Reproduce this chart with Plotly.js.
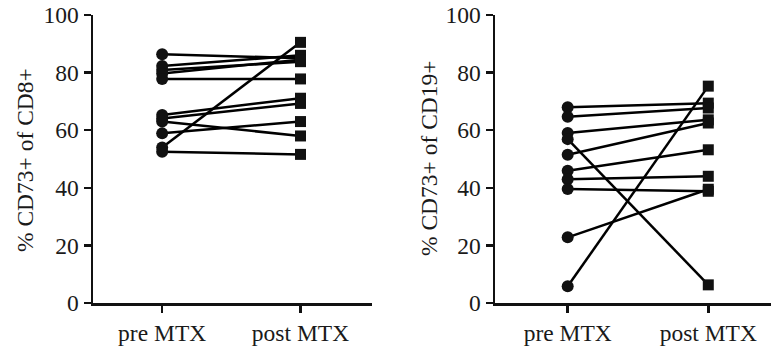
<!DOCTYPE html>
<html>
<head>
<meta charset="utf-8">
<script src="https://cdn.plot.ly/plotly-3.0.1.min.js"></script>
<style>html,body{margin:0;padding:0;background:#fff;}#chart{width:771px;height:349px;}</style>
</head>
<body>
<div id="chart"></div>
<script>
var categories = ['pre MTX', 'post MTX'];
var cd8Pre  = [86.4, 82.3, 80.9, 79.7, 77.8, 65.3, 64.1, 63.0, 58.9, 54.0, 52.5];
var cd8Post = [85.0, 86.0, 83.8, 84.5, 77.8, 71.1, 69.3, 58.0, 63.0, 90.5, 51.6];
var cd19Pre  = [68.0, 64.7, 59.0, 56.9, 51.5, 45.9, 43.0, 39.6, 22.8, 5.8];
var cd19Post = [69.4, 67.7, 63.6, 6.3, 62.5, 53.2, 44.0, 38.8, 39.5, 75.3];
var yTicks = [0, 20, 40, 60, 80, 100];
var yTitles = ['% CD73+ of CD8+', '% CD73+ of CD19+'];

var traces = [];
function addPairs(pre, post, xa, ya) {
  for (var i = 0; i < pre.length; i++) {
    traces.push({
      type: 'scatter', mode: 'lines+markers',
      x: categories, y: [pre[i], post[i]],
      xaxis: xa, yaxis: ya,
      line: {color: '#000', width: 2.5},
      marker: {color: '#111', symbol: ['circle', 'square'], size: [12, 11], opacity: 1,
               line: {width: 0}},
      showlegend: false, hoverinfo: 'skip', cliponaxis: false
    });
  }
}
addPairs(cd8Pre, cd8Post, 'x', 'y');
addPairs(cd19Pre, cd19Post, 'x2', 'y2');

var W = 771, H = 349;
var font = {family: '"Liberation Serif", "Times New Roman", serif', size: 23.5, color: '#1a1a1a'};
function xAxis(d0, d1, r0, r1, anchor) {
  return {domain: [d0 / W, d1 / W], anchor: anchor, type: 'category', categoryarray: categories,
    range: [r0, r1], showline: true, linecolor: '#111', linewidth: 2.5, ticks: 'outside',
    ticklen: 7, tickwidth: 2.5, tickcolor: '#111', showgrid: false, zeroline: false,
    tickfont: font, fixedrange: true};
}
function yAxis(anchor) {
  return {domain: [(H - 303) / H, (H - 15) / H], anchor: anchor, range: [0, 100],
    tickvals: yTicks, showline: true, linecolor: '#111', linewidth: 2.5, ticks: 'outside',
    ticklen: 7, tickwidth: 2.5, tickcolor: '#111', showgrid: false, zeroline: false,
    tickfont: font, fixedrange: true};
}
var layout = {
  width: W, height: H, margin: {l: 0, r: 0, t: 0, b: 0},
  paper_bgcolor: '#fff', plot_bgcolor: '#fff', font: font,
  xaxis: xAxis(93, 372, -0.5, 1.517, 'y'),
  yaxis: yAxis('x'),
  xaxis2: xAxis(495, 771, -0.517, 1.446, 'y2'),
  yaxis2: yAxis('x2'),
  annotations: [
    {text: yTitles[0], xref: 'paper', yref: 'paper', x: 25 / W, y: (H - 160) / H,
     xanchor: 'center', yanchor: 'middle', textangle: -90, showarrow: false, font: font},
    {text: yTitles[1], xref: 'paper', yref: 'paper', x: 429 / W, y: (H - 158) / H,
     xanchor: 'center', yanchor: 'middle', textangle: -90, showarrow: false, font: font}
  ]
};
Plotly.newPlot('chart', traces, layout, {displayModeBar: false, staticPlot: true});
</script>
</body>
</html>
